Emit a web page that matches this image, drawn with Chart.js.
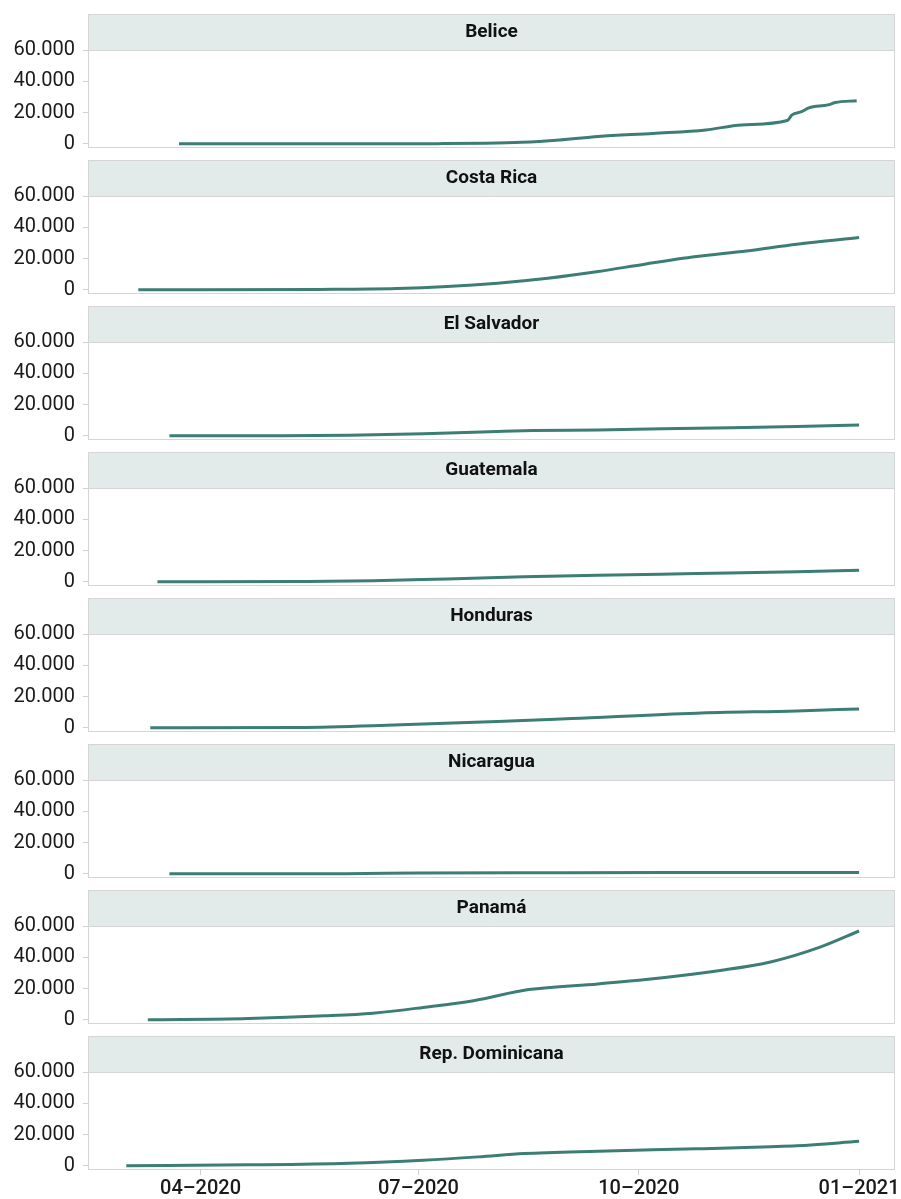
<!DOCTYPE html>
<html>
<head>
<meta charset="utf-8">
<script src="https://cdn.jsdelivr.net/npm/chart.js@4.4.0/dist/chart.umd.min.js"></script>
<style>
  body { margin: 0; background: #fff; width: 901px; height: 1199px; position: relative; overflow: hidden; }
  canvas { position: absolute; left: 0; }
</style>
</head>
<body>
<script>
// casos por millón, acumulados; x = día del año 2020 (1 ene = 0)
const paises = ['Belice', 'Costa Rica', 'El Salvador', 'Guatemala', 'Honduras', 'Nicaragua', 'Panamá', 'Rep. Dominicana'];

const beliceDias = [82, 150, 190, 210, 225, 241, 257, 280, 302, 317, 336, 338, 342, 345, 353, 356, 365];
const beliceCasos = [0, 50, 150, 400, 1000, 2500, 4650, 6700, 8900, 12100, 14900, 18500, 20600, 23000, 24900, 26400, 27600];

const costaRicaDias = [65, 140, 173, 194, 215, 236, 257, 277, 298, 319, 340, 366];
const costaRicaCasos = [0, 300, 850, 2100, 4250, 7400, 11700, 16600, 21300, 24900, 29200, 33400];

const elSalvadorDias = [78, 120, 153, 184, 215, 230, 257, 298, 340, 366];
const elSalvadorCasos = [0, 100, 400, 1300, 2800, 3400, 3800, 4900, 6000, 7000];

const guatemalaDias = [73, 132, 163, 194, 226, 257, 298, 340, 366];
const guatemalaCasos = [0, 200, 640, 1900, 3200, 4250, 5300, 6400, 7500];

const hondurasDias = [70, 132, 163, 184, 215, 246, 298, 340, 366];
const hondurasCasos = [0, 200, 1280, 2550, 4040, 5960, 9360, 10850, 12130];

const nicaraguaDias = [78, 152, 182, 244, 305, 366];
const nicaraguaCasos = [0, 150, 500, 700, 850, 950];

const panamaDias = [69, 111, 143, 163, 184, 205, 228, 257, 277, 308, 329, 350, 366];
const panamaCasos = [0, 860, 2580, 4300, 7950, 12250, 19350, 23000, 25800, 31600, 37000, 46650, 56800];

const repDomDias = [60, 111, 153, 184, 207, 226, 257, 298, 329, 340, 366];
const repDomCasos = [0, 640, 1700, 3600, 5750, 7900, 9400, 10900, 12200, 12800, 15700];

const dias = [beliceDias, costaRicaDias, elSalvadorDias, guatemalaDias, hondurasDias, nicaraguaDias, panamaDias, repDomDias];
const casos = [beliceCasos, costaRicaCasos, elSalvadorCasos, guatemalaCasos, hondurasCasos, nicaraguaCasos, panamaCasos, repDomCasos];

const yTicks = [0, 20000, 40000, 60000];
const xTicks = [91, 182, 274, 366];
const xTickLabels = ['04–2020', '07–2020', '10–2020', '01–2021'];

const STRIP_H = 36;
const PANEL_STEP = 146;
const FIRST_TOP = 14;

const formatMiles = v => String(v).replace(/\B(?=(\d{3})+(?!\d))/g, '.');

// franja gris con el nombre del país + borde del panel
const stripPlugin = {
  id: 'strip',
  beforeDraw(chart, args, opts) {
    const { ctx, chartArea: { left, right, top, bottom } } = chart;
    ctx.save();
    ctx.fillStyle = '#e2ebe9';
    ctx.fillRect(left, top - STRIP_H, right - left, STRIP_H);
    ctx.strokeStyle = '#d5d5d5';
    ctx.lineWidth = 1;
    ctx.strokeRect(left + 0.5, top - STRIP_H + 0.5, right - left - 1, bottom - top + STRIP_H);
    ctx.beginPath();
    ctx.moveTo(left, top + 0.5);
    ctx.lineTo(right, top + 0.5);
    ctx.stroke();
    ctx.fillStyle = '#111';
    ctx.font = 'bold 19px Roboto';
    ctx.textAlign = 'center';
    ctx.textBaseline = 'middle';
    ctx.fillText(opts.title, (left + right) / 2, top - STRIP_H / 2);
    ctx.restore();
  }
};

paises.forEach((pais, i) => {
  const isLast = i === paises.length - 1;
  const canvas = document.createElement('canvas');
  const h = isLast ? 1199 - (FIRST_TOP + i * PANEL_STEP) : PANEL_STEP;
  canvas.width = 901;
  canvas.height = h;
  canvas.style.top = (FIRST_TOP + i * PANEL_STEP) + 'px';
  document.body.appendChild(canvas);

  new Chart(canvas, {
    type: 'line',
    data: {
      datasets: [{
        data: dias[i].map((d, k) => ({ x: d, y: casos[i][k] })),
        borderColor: '#3c7d75',
        borderWidth: 3,
        pointRadius: 0,
        fill: false,
        cubicInterpolationMode: 'monotone'
      }]
    },
    options: {
      responsive: false,
      animation: false,
      layout: { padding: { top: STRIP_H, right: 6, left: 0, bottom: 0 } },
      plugins: {
        legend: { display: false },
        tooltip: { enabled: false },
        strip: { title: pais }
      },
      scales: {
        x: {
          type: 'linear',
          min: 44,
          max: 381,
          afterBuildTicks: s => { s.ticks = xTicks.map(v => ({ value: v })); },
          afterFit: s => { s.height = h - 133; s.paddingLeft = 0; s.paddingRight = 0; },
          border: { display: false },
          grid: { display: isLast, drawOnChartArea: false, tickLength: 6, color: '#d0d0d0' },
          ticks: {
            display: isLast,
            padding: 2,
            maxRotation: 0,
            autoSkip: false,
            color: '#1a1a1a',
            font: { family: 'Roboto', size: 20, weight: 500 },
            callback: v => xTickLabels[xTicks.indexOf(v)]
          }
        },
        y: {
          min: -2000,
          max: 60000,
          afterBuildTicks: s => { s.ticks = yTicks.map(v => ({ value: v })); },
          afterFit: s => { s.width = 88; s.paddingTop = 0; s.paddingBottom = 0; },
          border: { display: false },
          grid: { drawOnChartArea: false, tickLength: 5, color: '#d0d0d0' },
          ticks: {
            padding: 8,
            color: '#1a1a1a',
            font: { family: 'Roboto', size: 20 },
            callback: v => formatMiles(v)
          }
        }
      }
    },
    plugins: [stripPlugin]
  });
});
</script>
</body>
</html>
